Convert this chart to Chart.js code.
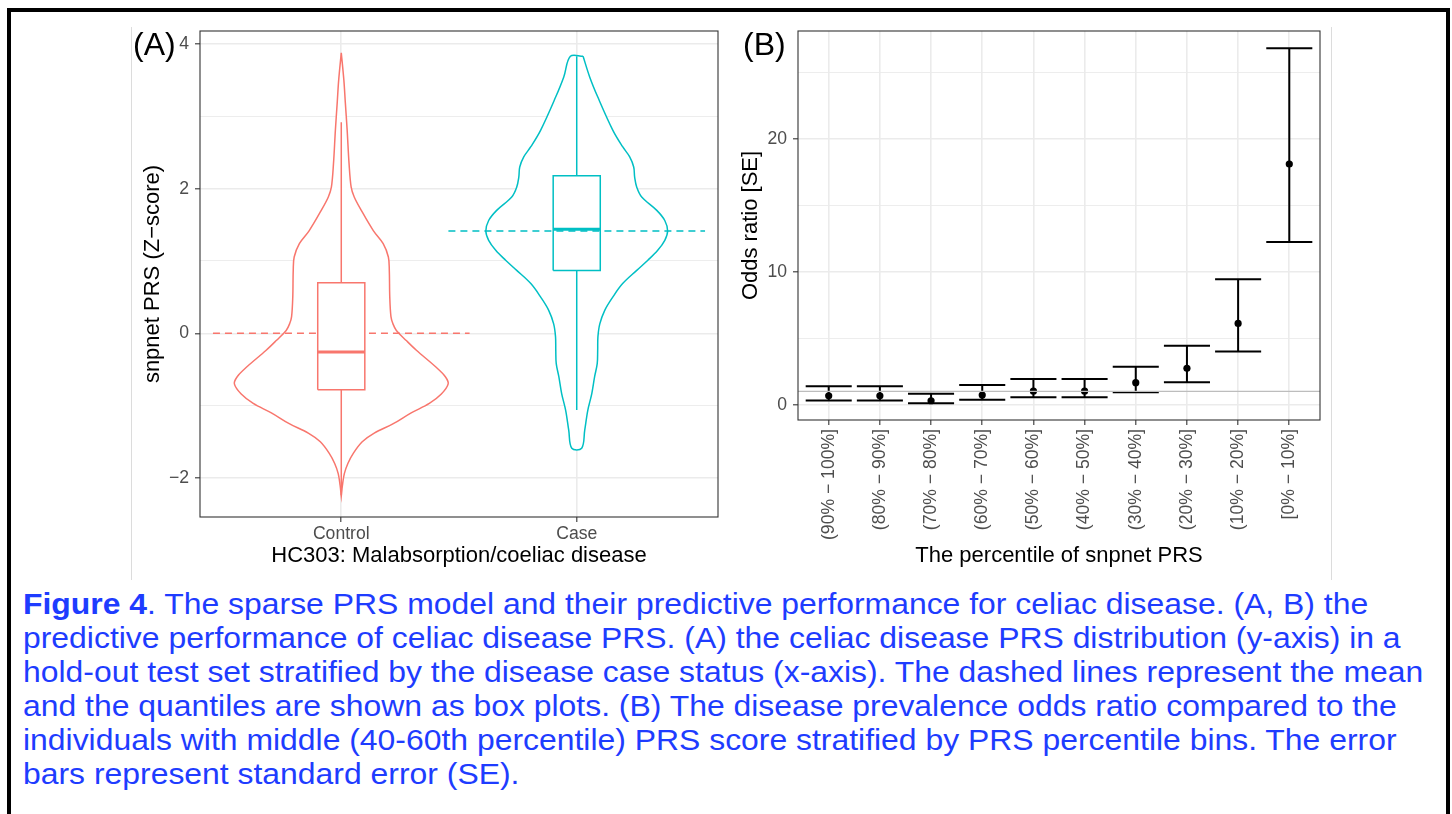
<!DOCTYPE html>
<html>
<head>
<meta charset="utf-8">
<script src="https://cdn.jsdelivr.net/npm/chart.js@4.4.1/dist/chart.umd.min.js"></script>
<style>
  html, body { margin: 0; padding: 0; background: #fff; }
  body { width: 1452px; height: 814px; position: relative; overflow: hidden; font-family: "Liberation Sans", Arial, sans-serif; }
  .frame { position: absolute; left: 7px; top: 8px; width: 1435px; height: 900px; border: 4px solid #000; border-bottom: none; }
  .edge { position: absolute; top: 27px; width: 1px; height: 553px; background: #dcdcdc; }
  canvas { position: absolute; top: 27px; }
  .tag { position: absolute; top: 28px; font-size: 32px; line-height: 32px; color: #000; }
  .caption { position: absolute; left: 23px; top: 587px; font-size: 29px; line-height: 34px; color: #1e3cff;
             white-space: nowrap; transform: scaleX(1.1); transform-origin: 0 0; }
</style>
</head>
<body>
<div class="frame"></div>
<div class="edge" style="left:131px"></div>
<div class="edge" style="left:1331px"></div>
<canvas id="violin" width="594" height="548" style="left:131px"></canvas>
<canvas id="odds" width="605" height="548" style="left:730px"></canvas>
<div class="tag" style="left:133px">(A)</div>
<div class="tag" style="left:743px">(B)</div>
<div class="caption"><b>Figure 4</b>. The sparse PRS model and their predictive performance for celiac disease. (A, B) the<br>predictive performance of celiac disease PRS. (A) the celiac disease PRS distribution (y-axis) in a<br>hold-out test set stratified by the disease case status (x-axis). The dashed lines represent the mean<br>and the quantiles are shown as box plots. (B) The disease prevalence odds ratio compared to the<br>individuals with middle (40-60th percentile) PRS score stratified by PRS percentile bins. The error<br>bars represent standard error (SE).</div>

<script>
// ---- panel A: PRS distribution by case status ----
const groupLabels = ['Control', 'Case'];
const groupColors = ['#F8766D', '#00BFC4'];
const zTicks = [-2, -1, 0, 1, 2, 3, 4];

// violin outlines: z-score and half width (in category units)
const controlViolinY = [3.88, 3.50, 3.20, 2.81, 2.35, 2.02, 1.885, 1.70, 1.42, 1.24,
  1.055, 0.87, 0.50, 0.23, 0.135, 0.04, -0.10, -0.235, -0.47, -0.60,
  -0.70, -0.84, -0.97, -1.10, -1.25, -1.38, -1.50, -1.66, -1.80, -1.94, -2.10, -2.25];
const controlViolinHalfWidth = [0, 0.011, 0.017, 0.025, 0.033, 0.042, 0.055, 0.085, 0.136, 0.178,
  0.200, 0.204, 0.206, 0.211, 0.219, 0.234, 0.276, 0.319, 0.403, 0.442,
  0.454, 0.425, 0.374, 0.297, 0.221, 0.140, 0.089, 0.051, 0.028, 0.013, 0.005, 0];
const caseViolinY = [3.83, 3.545, 3.27, 2.81, 2.58, 2.44, 2.30, 2.16, 2.02, 1.885,
  1.70, 1.56, 1.415, 1.286, 1.148, 1.01, 0.87, 0.687, 0.50, 0.318,
  0.13, -0.05, -0.235, -0.42, -0.60, -0.834, -1.065, -1.34, -1.59];
const caseViolinHalfWidth = [0.027, 0.055, 0.089, 0.153, 0.195, 0.225, 0.242, 0.246, 0.255, 0.276,
  0.340, 0.374, 0.386, 0.374, 0.344, 0.302, 0.255, 0.195, 0.153, 0.119,
  0.098, 0.090, 0.089, 0.087, 0.076, 0.064, 0.047, 0.034, 0.021];

// box plot summaries per group
const boxLowerWhisker = [-2.24, -1.06];
const boxQ1 = [-0.78, 0.87];
const boxMedian = [-0.26, 1.44];
const boxQ3 = [0.70, 2.18];
const boxUpperWhisker = [2.92, 3.83];
const groupMeans = [0.0, 1.415];

// ---- panel B: odds ratio by PRS percentile bin ----
const percentileBins = ['(90% \u2212 100%]', '(80% \u2212 90%]', '(70% \u2212 80%]', '(60% \u2212 70%]',
  '(50% \u2212 60%]', '(40% \u2212 50%]', '(30% \u2212 40%]', '(20% \u2212 30%]', '(10% \u2212 20%]', '[0% \u2212 10%]'];
const oddsRatio = [0.67, 0.67, 0.30, 0.73, 1.02, 1.02, 1.66, 2.74, 6.13, 18.14];
const oddsLower = [0.32, 0.32, 0.12, 0.37, 0.56, 0.56, 0.95, 1.69, 4.02, 12.26];
const oddsUpper = [1.40, 1.40, 0.83, 1.48, 1.94, 1.94, 2.87, 4.45, 9.45, 26.86];
const oddsTicks = [0, 5, 10, 15, 20, 25];
const referenceOdds = 1;

const BOX_HALF = 0.1;
const MEAN_HALF = 0.545;
const CAP_HALF = 0.45;

Chart.defaults.font.family = '"Liberation Sans", Arial, Helvetica, sans-serif';

function minus(v) { return v < 0 ? '\u2212' + Math.abs(v) : String(v); }

function violinOutline(center, ys, hw) {
  const right = ys.map((y, i) => ({ x: center + hw[i], y: y }));
  const left = ys.map((y, i) => ({ x: center - hw[i], y: y })).reverse();
  const pts = right.concat(left);
  pts.push(pts[0]);
  return pts;
}

function lineSet(data, color, width, extra) {
  return Object.assign({
    data: data, showLine: true, borderColor: color, borderWidth: width,
    pointRadius: 0, pointHoverRadius: 0, fill: false, tension: 0, spanGaps: false
  }, extra || {});
}

// datasets are listed bottom-most first; order is inverted for Chart.js
function stack(list) {
  list.forEach((ds, i) => { ds.order = list.length - i; });
  return list;
}

// keep the plot area where the axis sizes put it (no label overhang padding)
function fixedSize(prop, size) {
  return axis => {
    axis[prop] = size;
    axis.paddingTop = 0; axis.paddingBottom = 0;
    axis.paddingLeft = 0; axis.paddingRight = 0;
  };
}

const panelBorder = {
  id: 'panelBorder',
  afterDatasetsDraw(chart) {
    const { ctx, chartArea: a } = chart;
    ctx.save();
    ctx.strokeStyle = '#333333';
    ctx.lineWidth = 1.1;
    ctx.strokeRect(a.left, a.top, a.right - a.left, a.bottom - a.top);
    ctx.restore();
  }
};

const tickFont = { size: 17.6 };
const titleFont = { size: 22 };

// ---------- violin + box plot ----------
const violinSets = [];
groupLabels.forEach((name, g) => {
  const c = g + 1;
  const col = groupColors[g];
  const ys = g === 0 ? controlViolinY : caseViolinY;
  const hw = g === 0 ? controlViolinHalfWidth : caseViolinHalfWidth;
  const outline = lineSet(violinOutline(c, ys, hw), col, 1.5,
    { fill: 'shape', backgroundColor: '#ffffff', tension: 0.35 });
  const mean = lineSet([{ x: c - MEAN_HALF, y: groupMeans[g] }, { x: c + MEAN_HALF, y: groupMeans[g] }],
    col, 1.5, { borderDash: [7, 5] });
  const box = lineSet([
    { x: c - BOX_HALF, y: boxQ1[g] }, { x: c + BOX_HALF, y: boxQ1[g] },
    { x: c + BOX_HALF, y: boxQ3[g] }, { x: c - BOX_HALF, y: boxQ3[g] },
    { x: c - BOX_HALF, y: boxQ1[g] }], col, 1.5, { fill: 'shape', backgroundColor: '#ffffff' });
  const whiskers = lineSet([
    { x: c, y: boxQ3[g] }, { x: c, y: boxUpperWhisker[g] }, { x: c, y: null },
    { x: c, y: boxQ1[g] }, { x: c, y: boxLowerWhisker[g] }], col, 1.5);
  const median = lineSet([{ x: c - BOX_HALF, y: boxMedian[g] }, { x: c + BOX_HALF, y: boxMedian[g] }], col, 3);
  if (g === 0) violinSets.push(outline, mean, whiskers, box, median);
  else violinSets.push(outline, whiskers, box, median, mean);
});

new Chart(document.getElementById('violin'), {
  type: 'scatter',
  data: { datasets: stack(violinSets) },
  options: {
    responsive: false, animation: false, devicePixelRatio: 1, events: [],
    layout: { padding: { top: 4, right: 7, bottom: 0, left: 0 } },
    plugins: { legend: { display: false }, tooltip: { enabled: false } },
    scales: {
      x: {
        type: 'linear', min: 0.4, max: 2.6,
        afterBuildTicks: axis => { axis.ticks = groupLabels.map((_, i) => ({ value: i + 1 })); },
        afterFit: fixedSize('height', 58),
        border: { display: false },
        grid: { color: '#ebebeb', lineWidth: 1.6, tickColor: '#333333', tickLength: 5, tickWidth: 1.1 },
        ticks: { callback: (v, i) => groupLabels[i], color: '#4d4d4d', font: tickFont, padding: 1.5, maxRotation: 0, autoSkip: false },
        title: { display: true, text: 'HC303: Malabsorption/coeliac disease', color: '#000', font: titleFont, padding: { top: 0, bottom: 6 } }
      },
      y: {
        type: 'linear', min: -2.54, max: 4.18,
        afterBuildTicks: axis => { axis.ticks = zTicks.map(v => ({ value: v })); },
        afterFit: fixedSize('width', 69),
        border: { display: false },
        grid: {
          color: '#ebebeb',
          lineWidth: ctx => (ctx.tick && ctx.tick.value % 2 === 0) ? 1.6 : 0.9,
          tickColor: ctx => (ctx.tick && ctx.tick.value % 2 === 0) ? '#333333' : 'rgba(0,0,0,0)',
          tickLength: 5, tickWidth: 1.1
        },
        ticks: { callback: v => v % 2 === 0 ? minus(v) : '', color: '#4d4d4d', font: tickFont, padding: 6, autoSkip: false },
        title: { display: true, text: 'snpnet PRS (Z\u2212score)', color: '#000', font: titleFont, padding: { top: 9, bottom: 0 } }
      }
    }
  },
  plugins: [panelBorder]
});

// ---------- odds ratio error bars ----------
const errorSegments = [];
percentileBins.forEach((_, i) => {
  const x = i + 1;
  errorSegments.push(
    { x: x - CAP_HALF, y: oddsUpper[i] }, { x: x + CAP_HALF, y: oddsUpper[i] }, { x: x, y: null },
    { x: x, y: oddsUpper[i] }, { x: x, y: oddsLower[i] }, { x: x, y: null },
    { x: x - CAP_HALF, y: oddsLower[i] }, { x: x + CAP_HALF, y: oddsLower[i] }, { x: x, y: null });
});

const oddsSets = stack([
  lineSet(errorSegments, '#000000', 2),
  { data: oddsRatio.map((v, i) => ({ x: i + 1, y: v })), pointRadius: 3.6, pointHoverRadius: 3.6,
    pointBackgroundColor: '#000', pointBorderColor: '#000', pointBorderWidth: 0, showLine: false },
  lineSet([{ x: 0.4, y: referenceOdds }, { x: 10.6, y: referenceOdds }], '#bdbdbd', 1.2)
]);

new Chart(document.getElementById('odds'), {
  type: 'scatter',
  data: { datasets: oddsSets },
  options: {
    responsive: false, animation: false, devicePixelRatio: 1, events: [],
    layout: { padding: { top: 4, right: 15, bottom: 0, left: 0 } },
    plugins: { legend: { display: false }, tooltip: { enabled: false } },
    scales: {
      x: {
        type: 'linear', min: 0.4, max: 10.6,
        afterBuildTicks: axis => { axis.ticks = percentileBins.map((_, i) => ({ value: i + 1 })); },
        afterFit: fixedSize('height', 155),
        border: { display: false },
        grid: { color: '#ebebeb', lineWidth: 1.6, tickColor: '#333333', tickLength: 5, tickWidth: 1.1 },
        ticks: { callback: (v, i) => percentileBins[i], color: '#4d4d4d', font: tickFont, padding: 4, minRotation: 90, maxRotation: 90, autoSkip: false },
        title: { display: true, text: 'The percentile of snpnet PRS', color: '#000', font: titleFont, padding: { top: 0, bottom: 6 } }
      },
      y: {
        type: 'linear', min: -1.15, max: 28.16,
        afterBuildTicks: axis => { axis.ticks = oddsTicks.map(v => ({ value: v })); },
        afterFit: fixedSize('width', 68),
        border: { display: false },
        grid: {
          color: '#ebebeb',
          lineWidth: ctx => (ctx.tick && ctx.tick.value % 10 === 0) ? 1.6 : 0.9,
          tickColor: ctx => (ctx.tick && ctx.tick.value % 10 === 0) ? '#333333' : 'rgba(0,0,0,0)',
          tickLength: 5, tickWidth: 1.1
        },
        ticks: { callback: v => v % 10 === 0 ? String(v) : '', color: '#4d4d4d', font: tickFont, padding: 6, autoSkip: false },
        title: { display: true, text: 'Odds ratio [SE]', color: '#000', font: titleFont, padding: { top: 8, bottom: 0 } }
      }
    }
  },
  plugins: [panelBorder]
});
</script>
</body>
</html>
